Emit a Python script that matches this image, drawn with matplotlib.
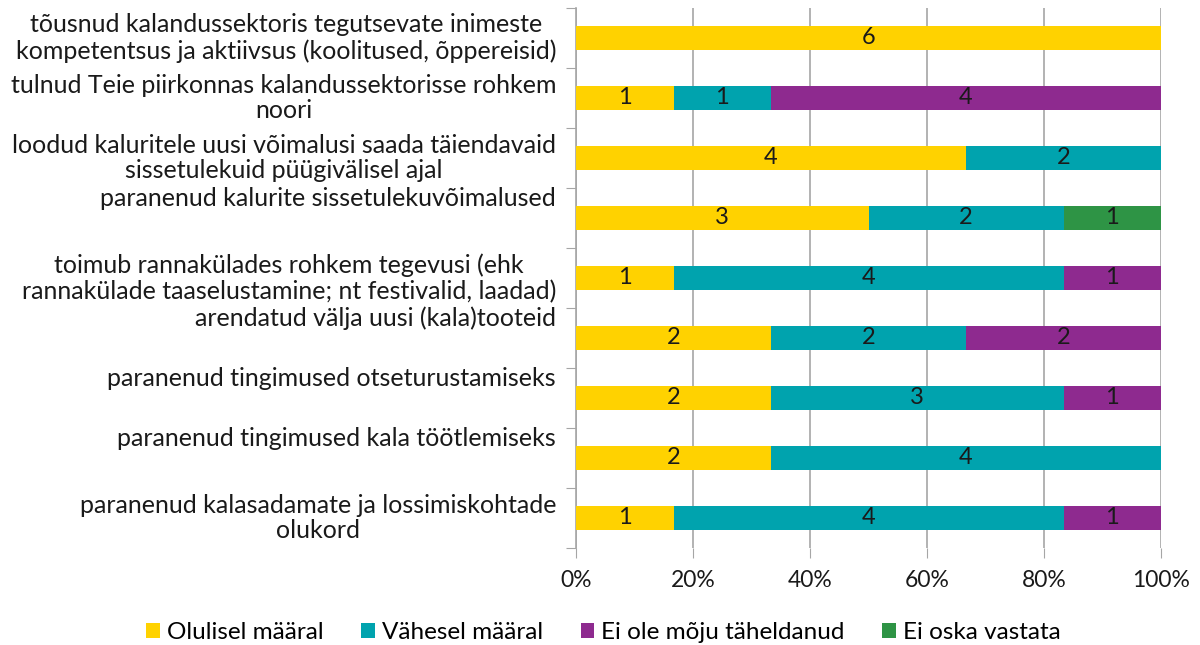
import matplotlib
matplotlib.use("Agg")
import matplotlib.pyplot as plt
import matplotlib.transforms as mtransforms
from matplotlib.patches import Patch
import numpy as np

plt.rcParams['font.family'] = ['Lato', 'DejaVu Sans']

categories = [
    "tõusnud kalandussektoris tegutsevate inimeste\nkompetentsus ja aktiivsus (koolitused, õppereisid)",
    "tulnud Teie piirkonnas kalandussektorisse rohkem\nnoori",
    "loodud kaluritele uusi võimalusi saada täiendavaid\nsissetulekuid püügivälisel ajal",
    "paranenud kalurite sissetulekuvõimalused",
    "toimub rannakülades rohkem tegevusi (ehk\nrannakülade taaselustamine; nt festivalid, laadad)",
    "arendatud välja uusi (kala)tooteid",
    "paranenud tingimused otseturustamiseks",
    "paranenud tingimused kala töötlemiseks",
    "paranenud kalasadamate ja lossimiskohtade\nolukord",
]
series_names = ["Olulisel määral", "Vähesel määral", "Ei ole mõju täheldanud", "Ei oska vastata"]
olulisel = [6, 1, 4, 3, 1, 2, 2, 2, 1]
vahesel = [0, 1, 2, 2, 4, 2, 3, 4, 4]
ei_ole = [0, 4, 0, 0, 1, 2, 1, 0, 1]
ei_oska = [0, 0, 0, 1, 0, 0, 0, 0, 0]
x_ticks = [0, 0.2, 0.4, 0.6, 0.8, 1.0]
x_ticklabels = ["0%", "20%", "40%", "60%", "80%", "100%"]

colors = ["#FFD200", "#00A3AE", "#8E2A8F", "#2E9445"]
grid_c = "#A6A6A6"
txt_c = "#1A1A1A"

fig = plt.figure(figsize=(12, 6.45), dpi=100)
ax = fig.add_axes([0.48, 0.1504, 0.4875, 0.8372])

data = np.array([olulisel, vahesel, ei_ole, ei_oska], dtype=float)
totals = data.sum(axis=0)
n = len(categories)
ypos = np.arange(n)
left = np.zeros(n)
for k in range(4):
    frac = data[k] / totals
    ax.barh(ypos, frac, left=left, height=0.4, color=colors[k], zorder=3)
    for i in range(n):
        if data[k][i] > 0:
            ax.text(left[i] + frac[i] / 2, ypos[i], f"{int(data[k][i])}",
                    ha='center', va='center', fontsize=17, color=txt_c, zorder=4)
    left = left + frac

ax.set_xlim(0, 1)
ax.set_ylim(n - 0.5, -0.5)
ax.set_xticks(x_ticks)
ax.set_xticklabels(x_ticklabels, fontsize=16.5, color=txt_c)
ax.tick_params(axis='x', direction='out', length=7, color=grid_c, pad=9)
ax.set_yticks(np.arange(-0.5, n, 1.0))
ax.set_yticklabels([])
ax.tick_params(axis='y', direction='out', length=7, color=grid_c)
ax.xaxis.grid(True, color=grid_c, linewidth=1.2, zorder=0)
for s in ['top', 'right', 'bottom']:
    ax.spines[s].set_visible(False)
ax.spines['left'].set_color(grid_c)
ax.spines['left'].set_linewidth(1.2)

for i, lab in enumerate(categories):
    dy = 0 if "\n" in lab else 14 / 72.0
    tr = mtransforms.blended_transform_factory(ax.transAxes, ax.transData)
    tr = tr + mtransforms.ScaledTranslation(0, dy, fig.dpi_scale_trans)
    ax.text(-0.034, i, lab, transform=tr, ha='right', va='center',
            multialignment='center', fontsize=18, color=txt_c, linespacing=1.15)

handles = [Patch(facecolor=c, edgecolor='none') for c in colors]
fig.legend(handles, series_names, loc='center', bbox_to_anchor=(0.503, 0.019),
           ncol=4, frameon=False, fontsize=17.5, handlelength=0.55, handleheight=0.55,
           handletextpad=0.3, columnspacing=1.55)

fig.savefig("out.png", dpi=100)
